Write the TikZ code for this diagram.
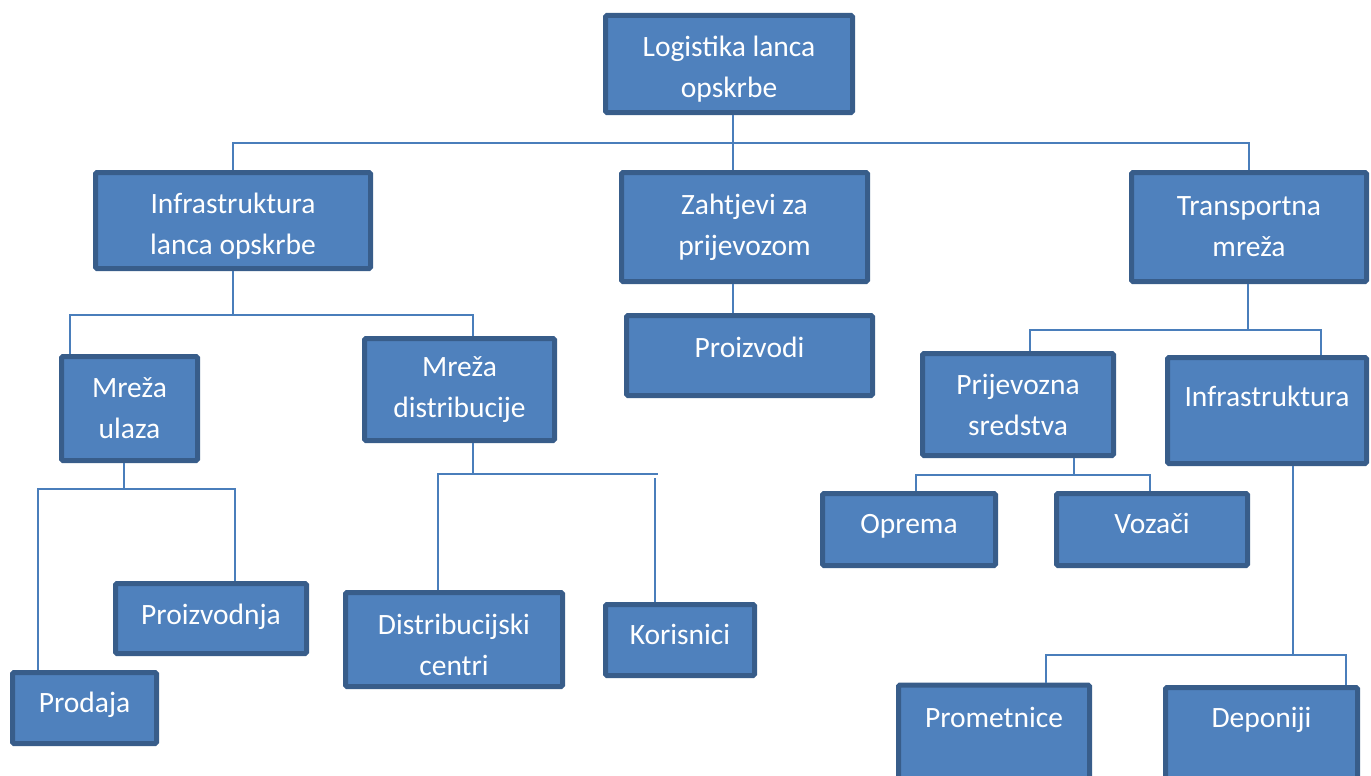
\documentclass[tikz,border=0pt]{standalone}
\usepackage{fontspec}
\setmainfont{Carlito}
\definecolor{boxfill}{HTML}{4F81BD}
\definecolor{boxline}{HTML}{385D8A}
\definecolor{connline}{HTML}{4A7EBB}
\newcommand\tdown{\rule{0pt}{31pt}}
\begin{document}
\begin{tikzpicture}[x=1pt,y=-1pt,
  box/.style={draw=boxline, fill=boxfill, line width=5pt, rounded corners=1.5pt,
    text=white, align=center, inner sep=0pt,
    font=\fontsize{29.5}{41}\selectfont},
  one/.style={text height=20pt, text depth={#1}},
  one/.default=6pt,
  conn/.style={draw=connline, line width=2pt}]
\useasboundingbox (0,0) rectangle (1371,776);
\clip (0,0) rectangle (1371,776);
% boxes
\node[box, minimum width=247pt, minimum height=97pt] (logistika) at (729,64) {\tdown Logistika lanca\\opskrbe};
\node[box, minimum width=275pt, minimum height=96pt] (infra) at (233,220.5) {\tdown Infrastruktura\\lanca opskrbe};
\node[box, minimum width=246pt, minimum height=109pt] (zaht) at (744.5,227) {Zahtjevi za\\prijevozom};
\node[box, minimum width=235pt, minimum height=109pt] (transp) at (1249,227) {Transportna\\mreža};
\node[box, one=17pt, minimum width=246pt, minimum height=80pt] (proizvodi) at (749.5,355.5) {Proizvodi};
\node[box, minimum width=136pt, minimum height=104pt] (ulaza) at (129.5,408.5) {Mreža\\ulaza};
\node[box, minimum width=190pt, minimum height=102pt] (distrib) at (459.5,389.5) {Mreža\\distribucije};
\node[box, minimum width=191pt, minimum height=102pt] (prijev) at (1018,404.5) {Prijevozna\\sredstva};
\node[box, one=28pt, minimum width=199pt, minimum height=106pt] (infraR) at (1267,410.5) {Infrastruktura};
\node[box, one=12pt, minimum width=173pt, minimum height=72pt] (oprema) at (909,529.5) {Oprema};
\node[box, one=12pt, minimum width=191pt, minimum height=72pt] (vozaci) at (1152,529.5) {Vozači};
\node[box, one=8pt, minimum width=191pt, minimum height=70pt] (proizvodnja) at (211,618.5) {Proizvodnja};
\node[box, one=11pt, minimum width=144pt, minimum height=71pt] (prodaja) at (84.5,708) {Prodaja};
\node[box, minimum width=217pt, minimum height=94pt] (dcentri) at (454,639.5) {\tdown Distribucijski\\centri};
\node[box, one=11pt, minimum width=149pt, minimum height=71pt] (korisnici) at (680,640) {Korisnici};
\node[box, one=45pt, minimum width=191pt, minimum height=110pt] (prometnice) at (994,740) {Prometnice};
\node[box, one=50pt, minimum width=192pt, minimum height=110pt] (deponiji) at (1261.5,742.5) {Deponiji};
% junction coordinates
\coordinate (j0) at (733,143);
\coordinate (b1l) at (70,315);   \coordinate (b1r) at (473,315);
\coordinate (b2l) at (1030,330); \coordinate (b2r) at (1321,330); \coordinate (b2m) at (1248,330);
\coordinate (b3l) at (38,489);   \coordinate (b3r) at (235,489);  \coordinate (b3m) at (124,489);
\coordinate (b4l) at (438,474);  \coordinate (b4r) at (655,474);  \coordinate (b4m) at (473,474);
\coordinate (b4e) at (658,474);
\coordinate (b5l) at (916,475);  \coordinate (b5r) at (1150,475); \coordinate (b5m) at (1074,475);
\coordinate (b6l) at (1046,655); \coordinate (b6r) at (1346,655); \coordinate (b6m) at (1293,655);
% connectors
\draw[conn] (logistika.south -| j0) -- (j0);
\draw[conn] (infra.north) |- (j0) -| (transp.north);
\draw[conn] (j0) -- (zaht.north -| j0);
\draw[conn] (zaht.south -| j0) -- (proizvodi.north -| j0);
\draw[conn] (infra.south) -- (infra.south |- b1l);
\draw[conn] (ulaza.north -| b1l) -- (b1l) -- (b1r) -- (distrib.north -| b1r);
\draw[conn] (transp.south -| b2m) -- (b2m);
\draw[conn] (prijev.north -| b2l) -- (b2l) -- (b2r) -- (infraR.north -| b2r);
\draw[conn] (ulaza.south -| b3m) -- (b3m);
\draw[conn] (prodaja.north -| b3l) -- (b3l) -- (b3r) -- (proizvodnja.north -| b3r);
\draw[conn] (distrib.south -| b4m) -- (b4m);
\draw[conn] (dcentri.north -| b4l) -- (b4l) -- (b4e);
\draw[conn] ([yshift=-4pt]b4r) -- (korisnici.north -| b4r);
\draw[conn] (prijev.south -| b5m) -- (b5m);
\draw[conn] (oprema.north -| b5l) -- (b5l) -- (b5r) -- (vozaci.north -| b5r);
\draw[conn] (infraR.south -| b6m) -- (b6m);
\draw[conn] (prometnice.north -| b6l) -- (b6l) -- (b6r) -- (deponiji.north -| b6r);
\end{tikzpicture}
\end{document}
